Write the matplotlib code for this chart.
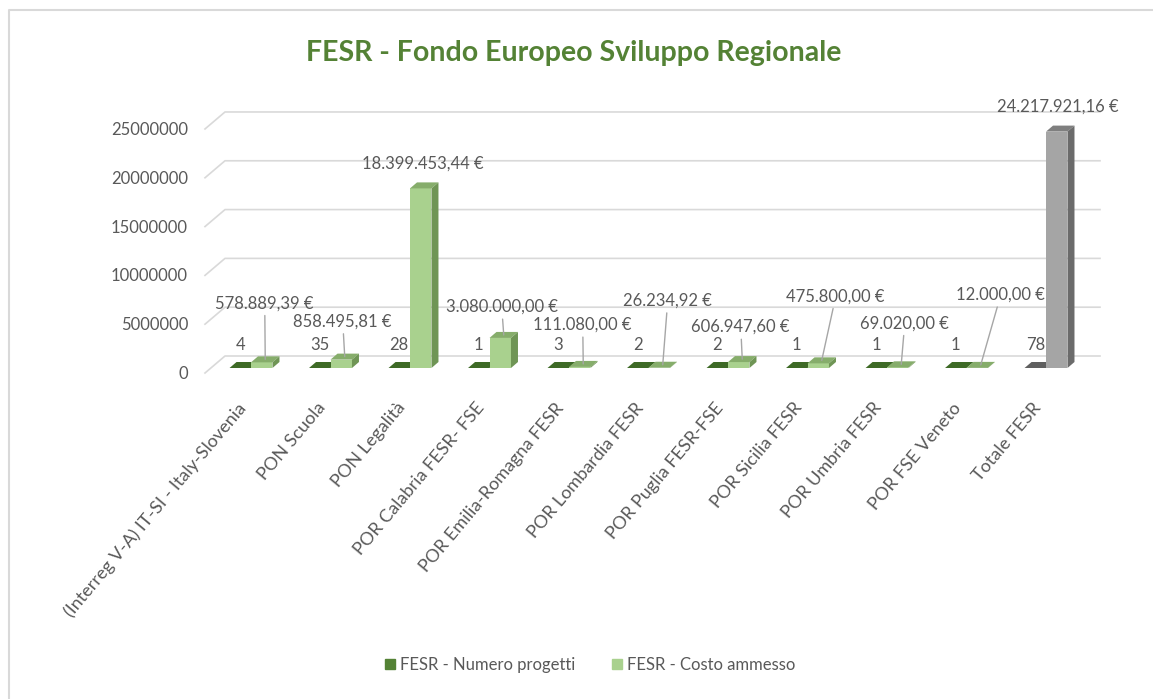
import matplotlib.pyplot as plt
from matplotlib.patches import Polygon, Patch
from matplotlib.lines import Line2D

# dati
categories = [
    "(Interreg V-A) IT-SI - Italy-Slovenia",
    "PON Scuola",
    "PON Legalità",
    "POR Calabria FESR- FSE",
    "POR Emilia-Romagna FESR",
    "POR Lombardia FESR",
    "POR Puglia FESR-FSE",
    "POR Sicilia FESR",
    "POR Umbria FESR",
    "POR FSE Veneto",
    "Totale FESR",
]
num_progetti = [4, 35, 28, 1, 3, 2, 2, 1, 1, 1, 78]
costo_ammesso = [578889.39, 858495.81, 18399453.44, 3080000.00, 111080.00,
                 26234.92, 606947.60, 475800.00, 69020.00, 12000.00, 24217921.16]
y_ticks = [0, 5000000, 10000000, 15000000, 20000000, 25000000]

# posizione delle etichette (pixel rispetto alla cima della barra)
label_offsets = [(-0.5, 56), (-2, 35), (-1.5, 22), (-2, 28), (-0.5, 39), (5, 64),
                 (-1.5, 32), (14, 64), (3.5, 41), (20, 70), (-2.5, 22)]
leader = [True, True, False, True, True, True, True, True, True, True, False]


def euro(v):
    s = f"{v:,.2f}"
    return s.replace(",", "X").replace(".", ",").replace("X", ".") + " €"


plt.rcParams['font.family'] = ['Lato', 'DejaVu Sans']
txt = '#595959'

fig = plt.figure(figsize=(11.53, 6.99), dpi=100)
ax = fig.add_axes([200 / 1153, 1 - 368 / 699, 900 / 1153, 270 / 699])
x0, x1 = -0.6415, 10.679
ymax = 27.66e6
ax.set_xlim(x0, x1)
ax.set_ylim(0, ymax)
ax.axis('off')
sx = 900 / (x1 - x0)   # px per unit x
sy = 270 / ymax        # px per unit y

w = 0.27
ddx, ddy = 7 / sx, 6 / sy

# griglia "3D"
for t in y_ticks:
    gx = x0 + 5 / sx
    ax.plot([gx, gx + 20 / sx, x1], [t - 5 / sy, t + 12 / sy, t + 12 / sy],
            color='#d9d9d9', lw=1.2, zorder=1, clip_on=False)
    ax.annotate(str(t), xy=(x0, t), xytext=(-12, -6), textcoords='offset pixels',
                ha='right', va='center', fontsize=12, color=txt)


def bar3d(xl, v, front, top, side):
    ax.bar(xl, v, width=w, align='edge', color=front, linewidth=0, zorder=3)
    ax.add_patch(Polygon([(xl, v), (xl + w, v), (xl + w + ddx, v + ddy), (xl + ddx, v + ddy)],
                         closed=True, facecolor=top, lw=0, zorder=3))
    ax.add_patch(Polygon([(xl + w, 0), (xl + w, v), (xl + w + ddx, v + ddy), (xl + w + ddx, ddy)],
                         closed=True, facecolor=side, lw=0, zorder=3))


for i, (n, c) in enumerate(zip(num_progetti, costo_ammesso)):
    total = categories[i].startswith("Totale")
    if total:
        bar3d(i - w, n, '#7f7f7f', '#5f5f5f', '#555555')
        bar3d(i, c, '#a5a5a5', '#7f7f7f', '#6b6b6b')
    else:
        bar3d(i - w, n, '#548235', '#3e6a26', '#355a21')
        bar3d(i, c, '#a9d18e', '#86ad6b', '#6f9555')

    ax.annotate(str(n), xy=(i - w / 2, 0), xytext=(0, 23), textcoords='offset pixels',
                ha='center', va='center', fontsize=12, color=txt, zorder=5)

    dx, dy = label_offsets[i]
    props = dict(arrowstyle='-', color='#a6a6a6', lw=1, shrinkA=1, shrinkB=0) if leader[i] else None
    ax.annotate(euro(c), xy=(i + w / 2 + ddx / 2, c + ddy / 2), xytext=(dx, dy),
                textcoords='offset pixels', ha='center', va='center', fontsize=12,
                color=txt, arrowprops=props, zorder=5)

    ax.annotate(categories[i], xy=(i, 0), xytext=(-8, -37), textcoords='offset pixels',
                rotation=50, rotation_mode='anchor', ha='right', va='center',
                fontsize=13, color=txt)

fig.text(574 / 1153, 1 - 53 / 699, "FESR - Fondo Europeo Sviluppo Regionale",
         ha='center', va='center', fontsize=20.5, fontweight='bold', color='#548235')

handles = [Patch(color='#548235'), Patch(color='#a9d18e')]
fig.legend(handles, ["FESR - Numero progetti", "FESR - Costo ammesso"],
           loc='center', bbox_to_anchor=(590 / 1153, 1 - 665 / 699), ncol=2, frameon=False,
           fontsize=12, handlelength=0.6, handleheight=0.6, handletextpad=0.3,
           columnspacing=2.2, labelcolor=txt)

# bordo del grafico
fig.add_artist(Line2D([9 / 1153, 9 / 1153, 1], [0, 1 - 10 / 699, 1 - 10 / 699],
                      color='#d9d9d9', lw=1.5))

fig.savefig('out.png', dpi=100)
